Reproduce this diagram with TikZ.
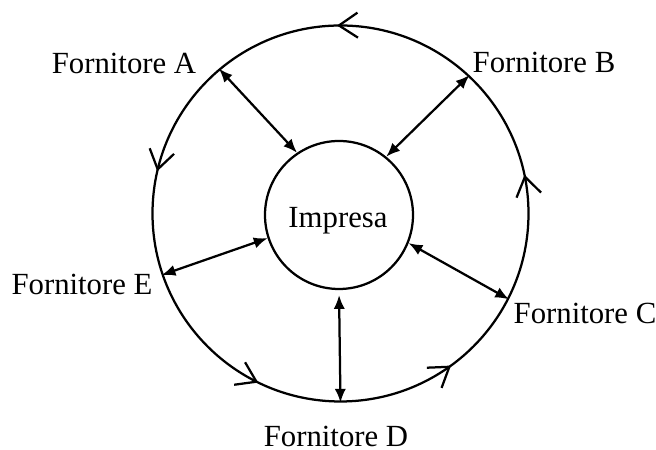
\documentclass[tikz,border=0pt]{standalone}
\usepackage{fontspec}
\setmainfont{Liberation Serif}
\usetikzlibrary{arrows.meta, decorations.markings, positioning}
\tikzset{
  flowtip/.tip={Straight Barb[length=7.5pt,width=10pt]},
  ringbox/.style={
    draw, circle, line width=0.9pt, inner sep=0pt, minimum size=150.4pt,
    postaction={decorate},
    decoration={markings,
      mark=at position 0.033 with {\arrow{flowtip}},
      mark=at position 0.253 with {\arrow{flowtip}},
      mark=at position 0.464 with {\arrow{flowtip}},
      mark=at position 0.678 with {\arrow{flowtip}},
      mark=at position 0.850 with {\arrow{flowtip}}}
  },
  firmbox/.style={
    draw, circle, line width=0.9pt, inner sep=0pt, minimum size=59.2pt
  },
  linkarrow/.style={
    {Latex[length=5.5pt,width=4.5pt]}-{Latex[length=5.5pt,width=4.5pt]},
    line width=0.9pt
  },
  supplabel/.style={
    anchor=base, inner sep=0pt, font=\fontsize{12.3pt}{14pt}\selectfont
  },
}
\begin{document}
\begin{tikzpicture}[x=0.4pt, y=-0.4pt]
  \useasboundingbox (0,0) rectangle (656,450);

  % Supply ring and firm
  \node[ringbox] (ring) at (340.5,213.5) {};
  \node[firmbox] (firm) at (339,215) {};
  \node[supplabel] (firmname) at (338,228) {Impresa};

  % Suppliers
  \node[supplabel] (labA) at (124,74) {Fornitore A};
  \node[supplabel] (labB) at (544,73) {Fornitore B};
  \node[supplabel] (labC) at (585,324) {Fornitore C};
  \node[supplabel] (labD) at (336,447) {Fornitore D};
  \node[supplabel] (labE) at (82,295) {Fornitore E};

  % Links
  \draw[linkarrow] (ring.130.7) -- (firm.124);
  \draw[linkarrow] (ring.47.6) -- (firm.51.5);
  \draw[linkarrow] (ring.-27.2) -- (firm.-22.4);
  \draw[linkarrow, shorten >=2pt] (ring.270) -- (firm.270);
  \draw[linkarrow] (ring.199.9) -- (firm.198.7);
\end{tikzpicture}
\end{document}
